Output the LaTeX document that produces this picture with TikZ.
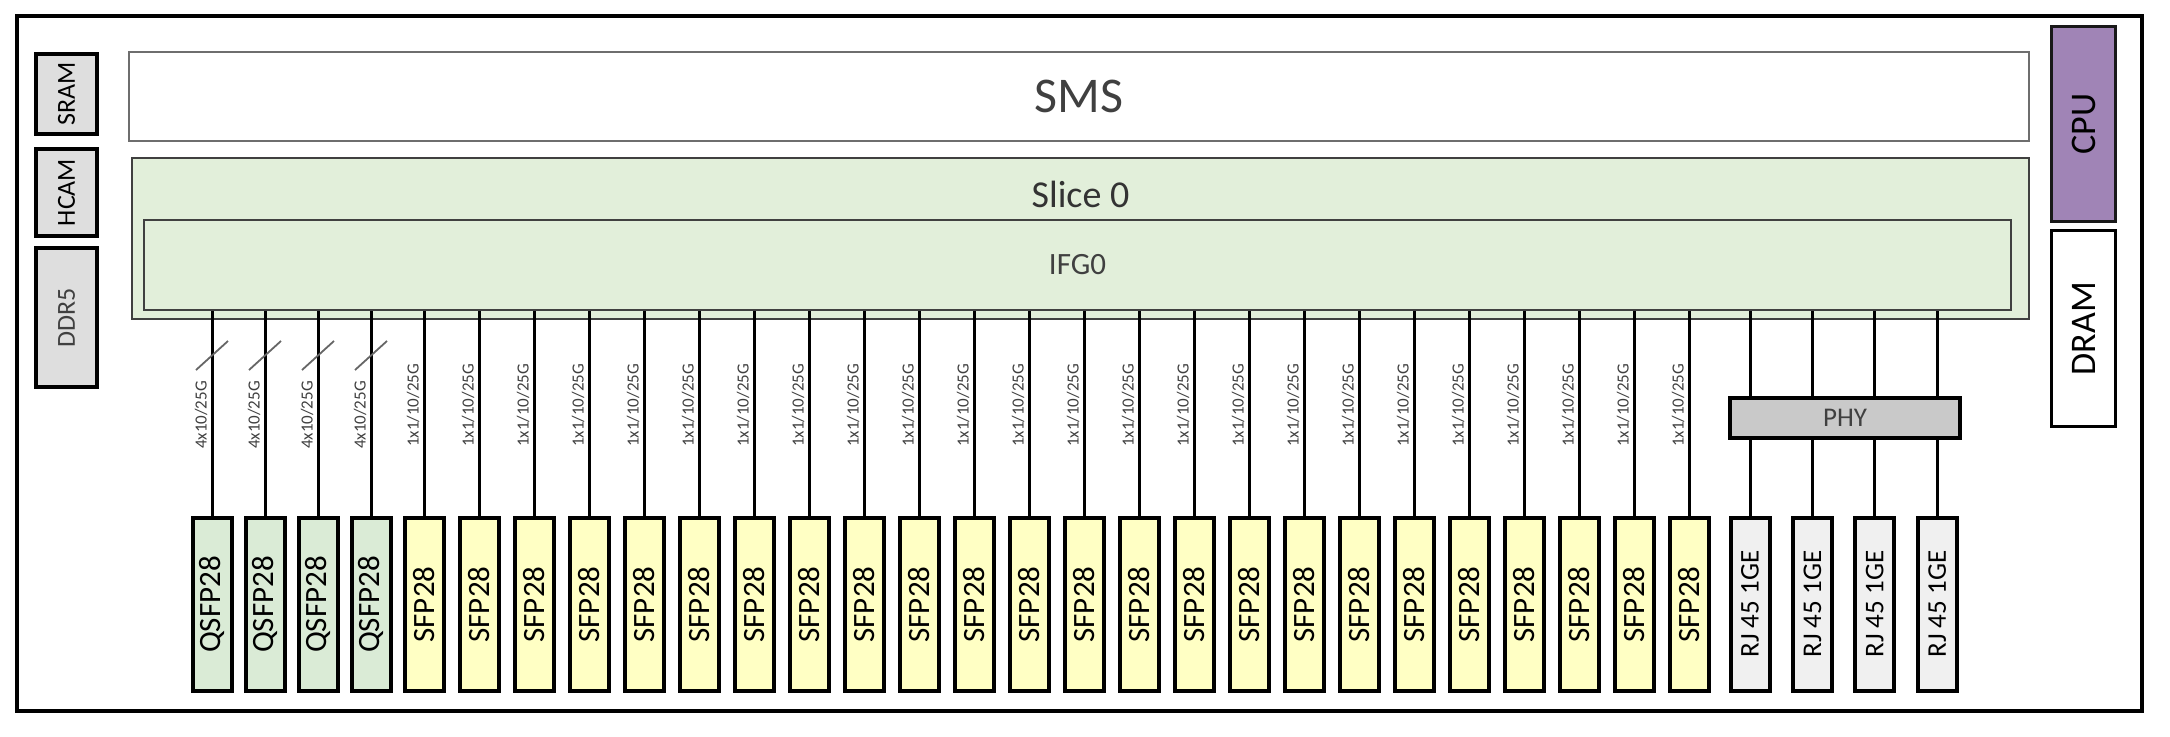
\documentclass[tikz,border=0pt]{standalone}
\usepackage{fontspec}
\setmainfont{Carlito}
\usetikzlibrary{positioning}
\definecolor{slicegreen}{HTML}{E2EFDA}
\definecolor{qsfpgreen}{HTML}{DAEBD6}
\definecolor{sfpyellow}{HTML}{FFFFC4}
\definecolor{rjgray}{HTML}{F0F0F0}
\definecolor{phygray}{HTML}{C9C9C9}
\definecolor{memgray}{HTML}{DEDEDE}
\definecolor{cpupurple}{HTML}{A084B6}
\definecolor{txtgray}{HTML}{404040}
\tikzstyle{memblk} = [draw,line width=4pt,fill=memgray,minimum width=61pt,inner sep=0pt,font=\fontsize{26}{26}\selectfont]
\tikzstyle{portbox} = [draw,line width=4pt,minimum width=39pt,minimum height=173pt,inner sep=0pt,font=\fontsize{31}{31}\selectfont]
\tikzstyle{wireline} = [draw,line width=3pt]
\tikzstyle{ratelbl} = [rotate=90,anchor=west,inner sep=0pt,text=txtgray,font=\fontsize{17}{17}\selectfont]
\tikzstyle{lanemark} = [draw,line width=1.8pt,color=black!60]

\begin{document}
\begin{tikzpicture}[x=1pt,y=-1pt]
    \useasboundingbox (0,0) rectangle (2170,736);
    \node[draw,line width=4pt,minimum width=2125pt,minimum height=695pt] (board) at (1079.5,363.5) {};

    \node[memblk, minimum height=80pt] (sram) at (66.5,94) {\rotatebox{90}{SRAM}};
    \node[memblk, minimum height=87pt] (hcam) at (66.5,192.5) {\rotatebox{90}{HCAM}};
    \node[memblk, minimum height=139pt, text=txtgray] (ddr) at (66.5,317.5) {\rotatebox{90}{DDR5}};

    \node[draw=black!57,line width=2pt,minimum width=1900pt,minimum height=89pt,text=txtgray,font=\fontsize{50}{50}\selectfont] (sms) at (1079,96.5) {SMS};
    \node[draw=txtgray,line width=2pt,fill=slicegreen,minimum width=1897pt,minimum height=161pt] (slice) at (1080.5,238.5) {};
    \node[text=black!80,font=\fontsize{38}{38}\selectfont] (slicetxt) at (1080.5,194) {Slice 0};
    \node[draw=txtgray,line width=2pt,fill=slicegreen,minimum width=1867pt,minimum height=90pt,text=txtgray,font=\fontsize{31}{31}\selectfont] (ifg) at (1077.5,265) {IFG0};

    \node[draw=black!90,line width=3pt,fill=cpupurple,minimum width=64pt,minimum height=195pt,font=\fontsize{36}{36}\selectfont] (cpu) at (2083.5,124) {\rotatebox{90}{CPU}};
    \node[draw,line width=3pt,minimum width=64pt,minimum height=196pt,font=\fontsize{36}{36}\selectfont] (dram) at (2083.5,328.5) {\rotatebox{90}{DRAM}};

    \foreach \i/\x in {1/212,2/265,3/318,4/371} {
      \node[portbox, fill=qsfpgreen] (q\i) at (\x,604.5) {\rotatebox{90}{QSFP28}};
      \draw[wireline] (ifg.south -| q\i) -- (q\i);
      \draw[lanemark] (\x-16,370) -- (\x+16,341);
      \node[ratelbl] (ql\i) at (\x-11,449) {4x10/25G};
    }

    \foreach \i [evaluate=\i as \x using 424+55*\i] in {0,...,23} {
      \node[portbox, fill=sfpyellow] (s\i) at (\x,604.5) {\rotatebox{90}{SFP28}};
      \draw[wireline] (ifg.south -| s\i) -- (s\i);
      \node[ratelbl] (sl\i) at (\x-11,447) {1x1/10/25G};
    }

    \node[draw,line width=4pt,fill=phygray,minimum width=230pt,minimum height=40pt,text=txtgray,font=\fontsize{27}{27}\selectfont] (phy) at (1845,418) {PHY};

    \foreach \i [evaluate=\i as \x using 1750+62.4*\i] in {0,...,3} {
      \node[portbox, fill=rjgray, font=\fontsize{27}{27}\selectfont] (r\i) at (\x,604) {\rotatebox{90}{RJ 45 1GE}};
      \draw[wireline] (ifg.south -| r\i) -- (phy.north -| r\i);
      \draw[wireline] (phy.south -| r\i) -- (r\i);
    }
\end{tikzpicture}
\end{document}
